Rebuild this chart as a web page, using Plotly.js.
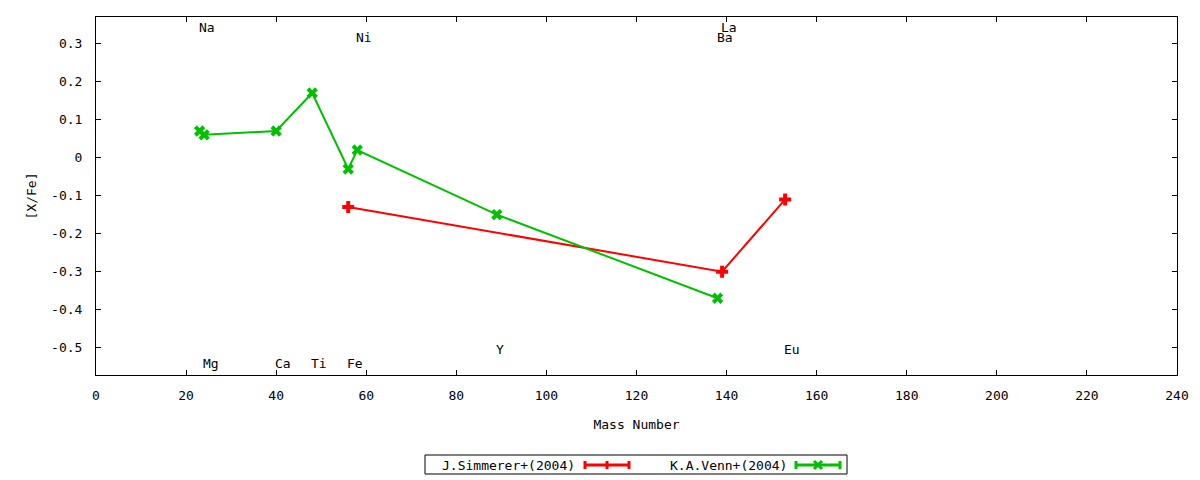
<!DOCTYPE html>
<html>
<head>
<meta charset="utf-8">
<script src="https://cdn.plot.ly/plotly-3.0.1.min.js"></script>
<style>
html,body{margin:0;padding:0;background:#fff;}
#chart{width:1200px;height:480px;}
</style>
</head>
<body>
<div id="chart"></div>
<script>
// ---- data ----
var simmererName = 'J.Simmerer+(2004)';
var simmererMass = [56, 139, 153];
var simmererXFe  = [-0.13, -0.30, -0.11];

var vennName = 'K.A.Venn+(2004)';
var vennMass = [23, 24, 40, 48, 56, 58, 89, 138];
var vennXFe  = [0.07, 0.06, 0.07, 0.17, -0.03, 0.02, -0.15, -0.37];

var labelNames = ['Na', 'Mg', 'Ca', 'Ti', 'Fe', 'Ni', 'Y', 'Ba', 'La', 'Eu'];
var labelMass  = [23, 24, 40, 48, 56, 58, 89, 138, 139, 153];
var labelLevel = [0.342, -0.542, -0.542, -0.542, -0.542, 0.316, -0.506, 0.316, 0.342, -0.506];

var xTicks = [0, 20, 40, 60, 80, 100, 120, 140, 160, 180, 200, 220, 240];
var yTicks = [0.3, 0.2, 0.1, 0, -0.1, -0.2, -0.3, -0.4, -0.5];
var yTickText = ['0.3', '0.2', '0.1', '0', '-0.1', '-0.2', '-0.3', '-0.4', '-0.5'];

// ---- styling ----
var FONT = 'DejaVu Sans Mono, monospace';
var RED = '#ff0000';
var GREEN = '#00c000';

var W = 1200, H = 480;
var M = {l: 96, r: 23, t: 17, b: 105};
var PW = W - M.l - M.r, PH = H - M.t - M.b;
function px(x) { return (x - M.l) / PW; }
function py(y) { return (H - M.b - y) / PH; }

var traces = [
  {
    x: simmererMass, y: simmererXFe, name: simmererName,
    type: 'scatter', mode: 'lines+markers',
    line: {color: RED, width: 2},
    marker: {symbol: 'cross', size: 10, color: RED},
    showlegend: false, cliponaxis: false
  },
  {
    x: vennMass, y: vennXFe, name: vennName,
    type: 'scatter', mode: 'lines+markers',
    line: {color: GREEN, width: 2},
    marker: {symbol: 'x', size: 10, color: GREEN},
    showlegend: false, cliponaxis: false
  }
];

var annotations = labelNames.map(function (n, i) {
  return {
    x: labelMass[i], y: labelLevel[i], xref: 'x', yref: 'y',
    text: n, showarrow: false, xanchor: 'left', yanchor: 'middle', xshift: -3,
    font: {family: FONT, size: 13, color: '#000'}
  };
});

// legend (gnuplot style: text then sample)
var legendEntries = [
  {name: simmererName, color: RED, textRight: 577, s0: 585, s1: 629, mark: 'plus'},
  {name: vennName, color: GREEN, textRight: 789, s0: 796, s1: 840, mark: 'x'}
];
var legY = 465;
var shapes = [
  {type: 'rect', xref: 'paper', yref: 'paper',
   x0: px(425), x1: px(847), y0: py(455), y1: py(474),
   line: {color: '#000', width: 1}, fillcolor: 'rgba(0,0,0,0)'}
];
legendEntries.forEach(function (e) {
  annotations.push({
    x: px(e.textRight), y: py(legY), xref: 'paper', yref: 'paper',
    text: e.name, showarrow: false, xanchor: 'right', yanchor: 'middle',
    font: {family: FONT, size: 13, color: '#000'}
  });
  var ln = {color: e.color, width: 3};
  shapes.push({type: 'line', xref: 'paper', yref: 'paper',
    x0: px(e.s0), x1: px(e.s1), y0: py(legY), y1: py(legY), line: ln});
  shapes.push({type: 'line', xref: 'paper', yref: 'paper',
    x0: px(e.s0), x1: px(e.s0), y0: py(legY - 4), y1: py(legY + 4), line: ln});
  shapes.push({type: 'line', xref: 'paper', yref: 'paper',
    x0: px(e.s1), x1: px(e.s1), y0: py(legY - 4), y1: py(legY + 4), line: ln});
  var mid = (e.s0 + e.s1) / 2;
  if (e.mark === 'plus') {
    shapes.push({type: 'line', xref: 'paper', yref: 'paper',
      x0: px(mid), x1: px(mid), y0: py(legY - 4), y1: py(legY + 4), line: ln});
  } else {
    shapes.push({type: 'line', xref: 'paper', yref: 'paper',
      x0: px(mid - 4), x1: px(mid + 4), y0: py(legY - 4), y1: py(legY + 4), line: ln});
    shapes.push({type: 'line', xref: 'paper', yref: 'paper',
      x0: px(mid - 4), x1: px(mid + 4), y0: py(legY + 4), y1: py(legY - 4), line: ln});
  }
});

var axisCommon = {
  showgrid: false, zeroline: false, showline: true, linecolor: '#000', linewidth: 1,
  mirror: 'ticks', ticks: 'inside', ticklen: 5, tickwidth: 1, tickcolor: '#000',
  tickfont: {family: FONT, size: 13, color: '#000'}
};

var layout = {
  width: W, height: H,
  margin: M,
  paper_bgcolor: '#fff', plot_bgcolor: '#fff',
  showlegend: false,
  font: {family: FONT, size: 13, color: '#000'},
  xaxis: Object.assign({}, axisCommon, {
    range: [0, 240], tickmode: 'array', tickvals: xTicks,
    ticklabelstandoff: 8,
    title: {text: 'Mass Number', font: {family: FONT, size: 13, color: '#000'}, standoff: 18}
  }),
  yaxis: Object.assign({}, axisCommon, {
    range: [-0.572, 0.37], tickmode: 'array', tickvals: yTicks, ticktext: yTickText,
    ticklabelstandoff: 10,
    title: {text: '[X/Fe]', font: {family: FONT, size: 13, color: '#000'}, standoff: 11}
  }),
  annotations: annotations,
  shapes: shapes
};

Plotly.newPlot('chart', traces, layout, {staticPlot: true, displayModeBar: false});
</script>
</body>
</html>
